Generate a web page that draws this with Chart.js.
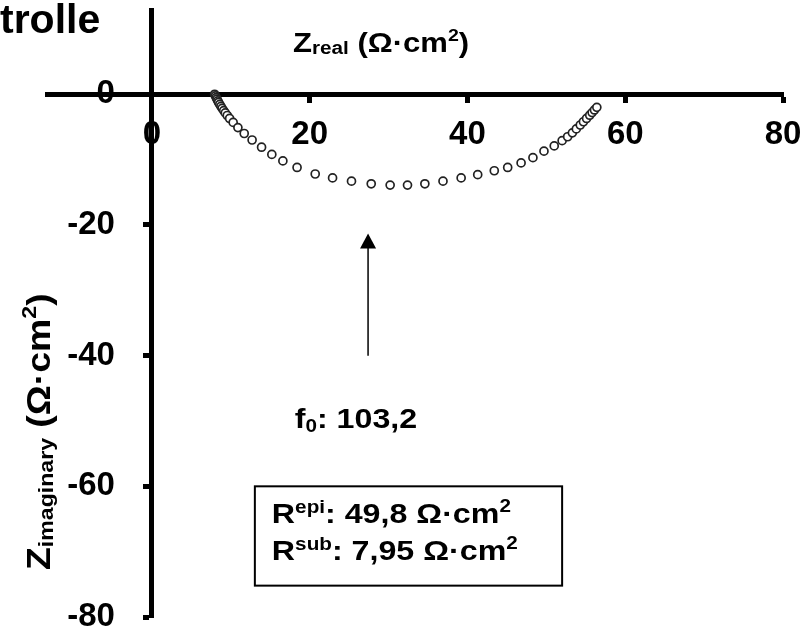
<html>
<head>
<script src="https://cdn.jsdelivr.net/npm/chart.js@4.4.3/dist/chart.umd.min.js"></script>
<style>
  body { margin: 0; background: #fff; }
</style>
</head>
<body>
<canvas id="mychart" width="805" height="633"></canvas>
<script>
    // Nyquist data (Z real / Z imaginary, Ohm*cm2)
    let zReal = [7.95, 8.05, 8.15, 8.25, 8.35, 8.45, 8.6, 8.75, 8.9, 9.1, 9.3, 9.55, 9.85, 10.3, 10.9, 11.7, 12.7, 13.9, 15.2, 16.6,
                 18.4, 20.7, 22.9, 25.3, 27.8, 30.2, 32.4, 34.6, 36.9, 39.2, 41.3, 43.4, 45.1, 46.8, 48.3, 49.7, 51.0, 52.0, 52.7, 53.3,
                 53.8, 54.3, 54.7, 55.1, 55.5, 55.8, 56.1, 56.4];
    let zImag = [0, -0.25, -0.5, -0.75, -1.0, -1.25, -1.55, -1.85, -2.15, -2.5, -2.85, -3.25, -3.7, -4.3, -5.1, -6.0, -7.0, -8.1, -9.2, -10.2,
                 -11.2, -12.2, -12.8, -13.3, -13.7, -13.9, -13.9, -13.7, -13.3, -12.8, -12.3, -11.7, -11.2, -10.5, -9.7, -8.7, -7.9, -7.1, -6.5, -5.9,
                 -5.3, -4.7, -4.2, -3.7, -3.2, -2.8, -2.4, -2.0];

    let xTicks = [0, 20, 40, 60, 80];
    let xTickLabels = ["0", "20", "40", "60", "80"];
    let yTicks = [-80, -60, -40, -20, 0];
    let yTickLabels = ["-80", "-60", "-40", "-20", "0"];

    // arrow to the apex, and the fit results
    let arrowX = 27.4, arrowFrom = -40, arrowTo = -21.3;
    let f0Text = "103,2";
    let rEpi = "49,8", rSub = "7,95";

    const FONT = "'Liberation Sans', Arial, sans-serif";
    const STRETCH = 1.15;

    function richText(ctx, x, y, parts, stretch, rot) {
        ctx.save();
        ctx.translate(x, y);
        if (rot) ctx.rotate(rot);
        ctx.scale(stretch, 1);
        ctx.fillStyle = "#000";
        ctx.textBaseline = "alphabetic";
        ctx.textAlign = "left";
        let cx = 0;
        for (let p of parts) {
            ctx.font = "bold " + p.size + "px " + FONT;
            ctx.fillText(p.t, cx, p.dy || 0);
            cx += ctx.measureText(p.t).width;
        }
        ctx.restore();
    }

    const extras = {
        id: "extras",
        afterDraw(chart) {
            let ctx = chart.ctx;
            let xs = chart.scales.x, ys = chart.scales.y;

            // y tick labels (Chart.js puts them on the axis itself when the axis sits at x = 0)
            let axisX = xs.getPixelForValue(0);
            ctx.save();
            ctx.font = "bold 33px " + FONT;
            ctx.fillStyle = "#000";
            ctx.textAlign = "right";
            ctx.textBaseline = "middle";
            ys.ticks.forEach(t => {
                ctx.fillText(yTickLabels[yTicks.indexOf(t.value)], axisX - 37, ys.getPixelForValue(t.value));
            });
            ctx.restore();

            richText(ctx, 0, 33, [{t: "trolle", size: 41}], 1);

            richText(ctx, 293, 52, [
                {t: "Z", size: 27}, {t: "real", size: 18, dy: 2}, {t: " (Ω·cm", size: 27},
                {t: "2", size: 17, dy: -11}, {t: ")", size: 27}], STRETCH);

            richText(ctx, 50, 570, [
                {t: "Z", size: 34}, {t: "imaginary", size: 21, dy: 3}, {t: " (Ω·cm", size: 34},
                {t: "2", size: 21, dy: -14}, {t: ")", size: 34}], 1.1, -Math.PI / 2);

            // arrow
            let ax = xs.getPixelForValue(arrowX);
            let ay1 = ys.getPixelForValue(arrowFrom), ay2 = ys.getPixelForValue(arrowTo);
            ctx.save();
            ctx.strokeStyle = "#000";
            ctx.fillStyle = "#000";
            ctx.lineWidth = 1.5;
            ctx.beginPath();
            ctx.moveTo(ax, ay1);
            ctx.lineTo(ax, ay2 + 12);
            ctx.stroke();
            ctx.beginPath();
            ctx.moveTo(ax, ay2);
            ctx.lineTo(ax - 8, ay2 + 15);
            ctx.lineTo(ax + 8, ay2 + 15);
            ctx.closePath();
            ctx.fill();

            // box with the resistances
            let bx1 = xs.getPixelForValue(13.05), bx2 = xs.getPixelForValue(52.0);
            let by1 = ys.getPixelForValue(-60.0), by2 = ys.getPixelForValue(-75.2);
            ctx.lineWidth = 2;
            ctx.strokeRect(bx1, by1, bx2 - bx1, by2 - by1);
            ctx.restore();

            let fx = xs.getPixelForValue(18.1), fy = ys.getPixelForValue(-51.1);
            richText(ctx, fx, fy, [{t: "f", size: 28}, {t: "0", size: 18, dy: 4}, {t: ": " + f0Text, size: 28}], STRETCH);

            richText(ctx, bx1 + 17, by1 + 37, [
                {t: "R", size: 28}, {t: "epi", size: 18, dy: -10}, {t: ": " + rEpi + " Ω·cm", size: 28},
                {t: "2", size: 18, dy: -11}], STRETCH);
            richText(ctx, bx1 + 17, by1 + 74, [
                {t: "R", size: 28}, {t: "sub", size: 18, dy: -10}, {t: ": " + rSub + " Ω·cm", size: 28},
                {t: "2", size: 18, dy: -11}], STRETCH);
        }
    };

    function noPad(scale) {
        scale.paddingLeft = 0;
        scale.paddingRight = 0;
        scale.paddingTop = 0;
        scale.paddingBottom = 0;
    }

    let points = zReal.map((v, i) => ({x: v, y: zImag[i]}));

    let config = {
        type: "scatter",
        data: {
            datasets: [{
                data: points,
                pointRadius: 4,
                pointBorderWidth: 1.7,
                pointBorderColor: "#222",
                pointBackgroundColor: "#fff",
                showLine: false
            }]
        },
        options: {
            responsive: false,
            animation: false,
            layout: {padding: {left: 47, right: 22, top: 10, bottom: 16}},
            plugins: {legend: {display: false}, tooltip: {enabled: false}},
            scales: {
                x: {
                    type: "linear",
                    min: -13.3,
                    max: 80,
                    position: {y: 0},
                    afterBuildTicks: s => { s.ticks = xTicks.map(v => ({value: v})); },
                    afterFit: noPad,
                    grid: {drawOnChartArea: false, drawTicks: true, tickLength: 6, tickWidth: 5, tickColor: "#000"},
                    border: {display: true, color: "#000", width: 5},
                    ticks: {
                        color: "#000",
                        padding: 15,
                        font: {family: FONT, size: 33, weight: "bold"},
                        callback: (v) => xTickLabels[xTicks.indexOf(v)]
                    }
                },
                y: {
                    type: "linear",
                    min: -80,
                    max: 12.9,
                    position: {x: 0},
                    afterBuildTicks: s => { s.ticks = yTicks.map(v => ({value: v})); },
                    afterFit: noPad,
                    grid: {drawOnChartArea: false, drawTicks: true, tickLength: 6, tickWidth: 5, tickColor: "#000"},
                    border: {display: true, color: "#000", width: 5},
                    ticks: {display: false}
                }
            }
        },
        plugins: [extras]
    };

    new Chart(document.getElementById("mychart"), config);
</script>
</body>
</html>
